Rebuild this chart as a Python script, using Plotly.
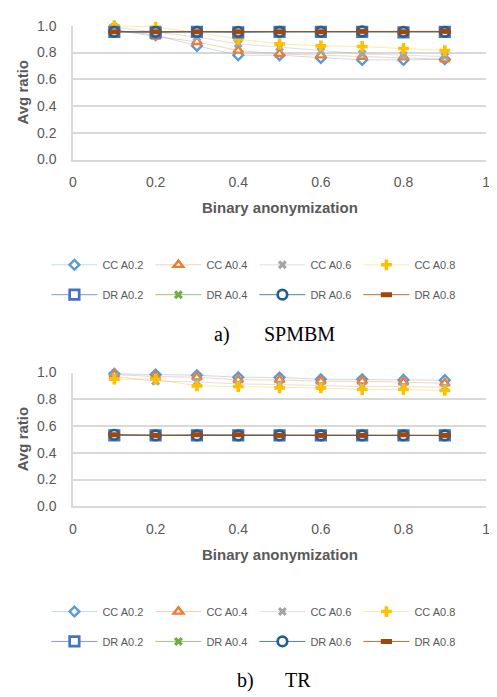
import plotly.graph_objects as go

# page body has an 8px margin at top-left; figure fills the rest of the window
OFF = 8
W, H = 497 - OFF, 697 - OFF

x_vals = [0.1, 0.2, 0.3, 0.4, 0.5, 0.6, 0.7, 0.8, 0.9]
series_names = ["CC A0.2", "CC A0.4", "CC A0.6", "CC A0.8",
                "DR A0.2", "DR A0.4", "DR A0.6", "DR A0.8"]

# (a) SPMBM
spmbm_cc_a02 = [0.97, 0.93, 0.85, 0.78, 0.78, 0.76, 0.745, 0.745, 0.75]
spmbm_cc_a04 = [0.97, 0.92, 0.88, 0.815, 0.79, 0.78, 0.77, 0.765, 0.75]
spmbm_cc_a06 = [0.99, 0.95, 0.915, 0.865, 0.84, 0.81, 0.79, 0.78, 0.77]
spmbm_cc_a08 = [1.0, 0.99, 0.95, 0.90, 0.865, 0.85, 0.845, 0.83, 0.815]
spmbm_dr_a02 = [0.955, 0.95, 0.955, 0.95, 0.955, 0.955, 0.955, 0.95, 0.955]
spmbm_dr_a04 = [0.955, 0.955, 0.955, 0.955, 0.955, 0.955, 0.955, 0.955, 0.955]
spmbm_dr_a06 = [0.955, 0.955, 0.955, 0.955, 0.955, 0.955, 0.958, 0.955, 0.955]
spmbm_dr_a08 = [0.955, 0.955, 0.955, 0.955, 0.955, 0.955, 0.958, 0.955, 0.958]

# (b) TR
tr_cc_a02 = [0.99, 0.985, 0.98, 0.965, 0.963, 0.95, 0.95, 0.945, 0.943]
tr_cc_a04 = [0.985, 0.97, 0.965, 0.945, 0.945, 0.935, 0.935, 0.927, 0.92]
tr_cc_a06 = [0.97, 0.935, 0.93, 0.915, 0.91, 0.90, 0.895, 0.895, 0.89]
tr_cc_a08 = [0.95, 0.95, 0.90, 0.895, 0.885, 0.885, 0.873, 0.873, 0.866]
tr_dr_a02 = [0.53, 0.53, 0.53, 0.53, 0.53, 0.53, 0.53, 0.53, 0.53]
tr_dr_a04 = [0.53, 0.53, 0.53, 0.53, 0.53, 0.53, 0.53, 0.53, 0.53]
tr_dr_a06 = [0.535, 0.53, 0.53, 0.53, 0.53, 0.53, 0.53, 0.53, 0.53]
tr_dr_a08 = [0.535, 0.53, 0.535, 0.535, 0.53, 0.53, 0.53, 0.535, 0.53]

x_ticks = [0, 0.2, 0.4, 0.6, 0.8, 1]
x_tick_labels = ["0", "0.2", "0.4", "0.6", "0.8", "1"]
y_ticks = [0.0, 0.2, 0.4, 0.6, 0.8, 1.0]
y_tick_labels = ["0.0", "0.2", "0.4", "0.6", "0.8", "1.0"]

x_title = "Binary anonymization"
y_title = "Avg ratio"
captions = [("a)", "SPMBM"), ("b)", "TR")]

styles = [
    dict(line=dict(color="rgba(91,155,213,0.35)", width=1),
         marker=dict(symbol="diamond", size=7.5, color="white", line=dict(color="#5B9BD5", width=2.4))),
    dict(line=dict(color="rgba(237,125,49,0.35)", width=1),
         marker=dict(symbol="triangle-up", size=8.5, color="white", line=dict(color="#ED7D31", width=2.4))),
    dict(line=dict(color="rgba(165,165,165,0.35)", width=1),
         marker=dict(symbol="x", size=8, color="#A5A5A5", line=dict(width=0))),
    dict(line=dict(color="rgba(255,192,0,0.35)", width=1),
         marker=dict(symbol="cross", size=9, color="#FFC000", line=dict(width=0))),
    dict(line=dict(color="rgba(68,114,196,0.7)", width=1),
         marker=dict(symbol="square", size=9.5, color="white", line=dict(color="#4472C4", width=2.7))),
    dict(line=dict(color="rgba(112,173,71,0.7)", width=1),
         marker=dict(symbol="x", size=8, color="#70AD47", line=dict(width=0))),
    dict(line=dict(color="rgba(37,94,145,0.8)", width=1),
         marker=dict(symbol="circle", size=9.5, color="white", line=dict(color="#255E91", width=2.7))),
    dict(line=dict(color="rgba(158,72,14,0.8)", width=1),
         marker=dict(symbol="line-ew", size=8, color="#9E480E", line=dict(color="#9E480E", width=5))),
]

charts = [
    [spmbm_cc_a02, spmbm_cc_a04, spmbm_cc_a06, spmbm_cc_a08,
     spmbm_dr_a02, spmbm_dr_a04, spmbm_dr_a06, spmbm_dr_a08],
    [tr_cc_a02, tr_cc_a04, tr_cc_a06, tr_cc_a08,
     tr_dr_a02, tr_dr_a04, tr_dr_a06, tr_dr_a08],
]

# pixel layout in window coordinates (from top-left of the window)
plot_left, plot_right = 70, 490
plot_tops = [18, 373]
plot_bottoms = [155, 510]
xtitle_y = [204, 559]
legend_rows = [(262.7, 293.3), (617.7, 648.3)]
caption_y = [334, 688]
legend_x = 43

def py(p):
    return 1 - (p - OFF) / H

def px(p):
    return (p - OFF) / W

fig = go.Figure()
tick_font = dict(family="Liberation Sans, Arial, sans-serif", size=14, color="#595959")

annotations = []
legend_layouts = {}
for ci, data in enumerate(charts):
    xa = "x" if ci == 0 else "x2"
    ya = "y" if ci == 0 else "y2"
    for si, (name, vals) in enumerate(zip(series_names, data)):
        lg_idx = ci * 2 + (0 if si < 4 else 1)
        lg = "legend" if lg_idx == 0 else f"legend{lg_idx + 1}"
        fig.add_trace(go.Scatter(
            x=x_vals, y=vals, name=name, mode="lines+markers",
            xaxis=xa, yaxis=ya, legend=lg, cliponaxis=False,
            line=styles[si]["line"], marker=styles[si]["marker"],
        ))
    for ri in range(2):
        lg_idx = ci * 2 + ri
        key = "legend" if lg_idx == 0 else f"legend{lg_idx + 1}"
        legend_layouts[key] = dict(
            orientation="h", x=px(legend_x), xanchor="left",
            y=py(legend_rows[ci][ri]), yanchor="middle",
            font=dict(family="Liberation Sans, Arial, sans-serif", size=11, color="#595959"),
            itemwidth=46, entrywidth=43, entrywidthmode="pixels",
            bgcolor="rgba(0,0,0,0)", borderwidth=0, tracegroupgap=0,
            itemclick=False, itemdoubleclick=False,
        )
    annotations.append(dict(
        text=f"<b>{y_title}</b>", x=px(19), y=py((plot_tops[ci] + plot_bottoms[ci]) / 2),
        xref="paper", yref="paper", showarrow=False, textangle=-90,
        font=dict(family="Liberation Sans, Arial, sans-serif", size=15, color="#595959"),
        xanchor="center", yanchor="middle"))
    annotations.append(dict(
        text=f"<b>{x_title}</b>", x=px((plot_left + plot_right) / 2), y=py(xtitle_y[ci]),
        xref="paper", yref="paper", showarrow=False,
        font=dict(family="Liberation Sans, Arial, sans-serif", size=15, color="#595959"),
        xanchor="center", yanchor="middle"))
    lab, cap = captions[ci]
    cap_x = [(221, 262), (245, 283)][ci]
    annotations.append(dict(
        text=lab, x=px(cap_x[0]), y=py(caption_y[ci]), xref="paper", yref="paper",
        showarrow=False, xanchor="center", yanchor="middle",
        font=dict(family="Liberation Serif, Times New Roman, serif", size=20, color="black")))
    annotations.append(dict(
        text=cap, x=px(cap_x[1]), y=py(caption_y[ci]), xref="paper", yref="paper",
        showarrow=False, xanchor="left", yanchor="middle",
        font=dict(family="Liberation Serif, Times New Roman, serif", size=20, color="black")))

axis_common_x = dict(
    range=[0, 1], tickvals=x_ticks, ticktext=x_tick_labels, showgrid=False,
    showline=True, linecolor="#D9D9D9", linewidth=1.5, zeroline=False, ticks="",
    tickfont=tick_font, ticklabelstandoff=9, ticklabeloverflow="allow", fixedrange=True,
)
axis_common_y = dict(
    range=[0, 1.0], tickvals=y_ticks, ticktext=y_tick_labels, showgrid=True,
    gridcolor="#D9D9D9", gridwidth=1.5, showline=True, linecolor="#D9D9D9", linewidth=1.5,
    zeroline=False, ticks="", tickfont=tick_font, ticklabelstandoff=12,
    ticklabeloverflow="allow", fixedrange=True,
)

fig.update_layout(
    width=W, height=H, margin=dict(l=0, r=0, t=0, b=0),
    paper_bgcolor="white", plot_bgcolor="white", showlegend=True,
    xaxis=dict(domain=[px(plot_left), px(plot_right)], anchor="y", **axis_common_x),
    yaxis=dict(domain=[py(plot_bottoms[0]), py(plot_tops[0])], anchor="x", **axis_common_y),
    xaxis2=dict(domain=[px(plot_left), px(plot_right)], anchor="y2", **axis_common_x),
    yaxis2=dict(domain=[py(plot_bottoms[1]), py(plot_tops[1])], anchor="x2", **axis_common_y),
    annotations=annotations,
    **legend_layouts,
)

fig.write_html("out.html")
